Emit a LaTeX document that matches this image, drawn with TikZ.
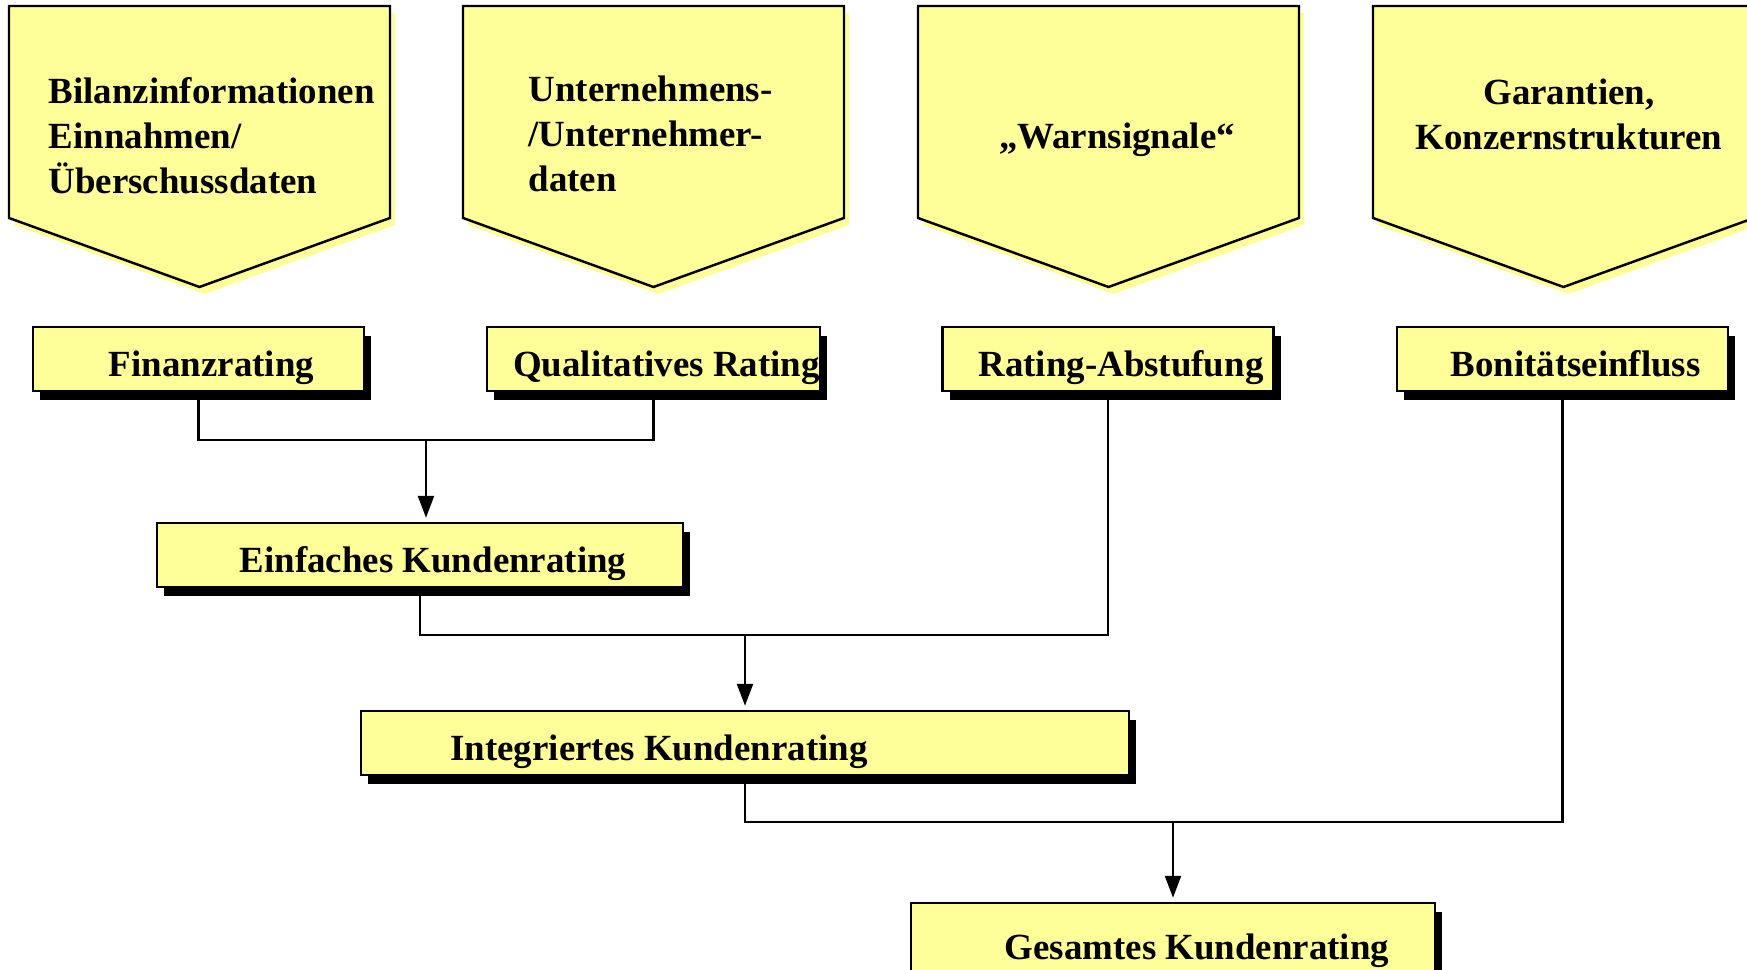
\documentclass[tikz,border=0pt]{standalone}
\usepackage{fontspec}
\setmainfont{Liberation Serif}
\usetikzlibrary{arrows.meta,shadows}
\definecolor{boxyellow}{HTML}{FFFF99}
\tikzset{
  pent/.style={fill=boxyellow, draw=black, line width=0.7pt,
    drop shadow={shadow xshift=0.5mm, shadow yshift=-0.7mm, fill=boxyellow, opacity=1}},
  pentext/.style={font=\bfseries\fontsize{10.5}{12.9}\selectfont, inner sep=0pt},
  ratebox/.style={rectangle, fill=boxyellow, draw=black, line width=0.7pt,
    minimum height=6.4mm, inner xsep=0pt, inner ysep=0pt,
    text height=4.2mm, text depth=0.6mm, font=\bfseries\fontsize{10.5}{12.9}\selectfont,
    execute at begin node=\hspace*{2.6mm},
    drop shadow={shadow xshift=0.7mm, shadow yshift=-0.9mm, fill=black, opacity=1}},
  feed/.style={line width=0.7pt},
  tofeed/.style={feed, -{Triangle[length=2.2mm,width=1.6mm]}, shorten >=0.4mm}
}
\begin{document}
\begin{tikzpicture}[x=0.1mm,y=-0.1mm]
\clip (0,0) rectangle (1747,970);
\fill[white] (0,0) rectangle (1747,970);
% inputs
\draw[pent] (9,6)--(390,6)--(390,218)--(199.5,287)--(9,218)--cycle;
\draw[pent] (463,6)--(844,6)--(844,218)--(653.5,287)--(463,218)--cycle;
\draw[pent] (918,6)--(1299,6)--(1299,218)--(1108.5,287)--(918,218)--cycle;
\draw[pent] (1373,6)--(1754,6)--(1754,218)--(1563.5,287)--(1373,218)--cycle;
% base = last line
\node[pentext, anchor=base west, align=left] (bilanz) at (48,194) {Bilanzinformationen\\Einnahmen/\\Überschussdaten};
\node[pentext, anchor=base west, align=left] (untern) at (528,192) {Unternehmens-\\/Unternehmer-\\daten};
\node[pentext, anchor=base] (warn) at (1117,149) {„Warnsignale“};
\node[pentext, anchor=base, align=center] (garant) at (1569,150) {Garantien,\\Konzernstrukturen};
% ratings
\node[ratebox, minimum width=33.1mm] (finanz) at (198.5,359) {Finanzrating};
\node[ratebox, minimum width=33.1mm] (quali) at (653.5,359) {Qualitatives Rating};
\node[ratebox, minimum width=33.1mm] (abstuf) at (1108,359) {Rating-Abstufung};
\node[ratebox, minimum width=33.1mm] (bonitaet) at (1562.5,359) {Bonitätseinfluss};
\node[ratebox, minimum width=52.6mm] (einfach) at (420,555) {Einfaches Kundenrating};
\node[ratebox, minimum width=76.8mm, execute at end node=\hspace*{19.8mm}] (integ) at (745,743) {Integriertes Kundenrating};
\node[ratebox, minimum width=52.4mm, minimum height=7.8mm, execute at begin node=\hspace*{2.2mm}] (gesamt) at (1173,942) {Gesamtes Kundenrating};
% connectors
\coordinate (j1) at (426,440);
\draw[feed] (finanz.south) |- (j1) -| (quali.south);
\draw[tofeed] (j1) -- (j1 |- einfach.north);
\coordinate (j2) at (745,635);
\draw[feed] (einfach.south) |- (j2) -| (abstuf.south);
\draw[tofeed] (j2) -- (integ.north);
\coordinate (j3) at (1173,822);
\draw[feed] (integ.south) |- (j3) -| (bonitaet.south);
\draw[tofeed] (j3) -- (gesamt.north);
\end{tikzpicture}
\end{document}
